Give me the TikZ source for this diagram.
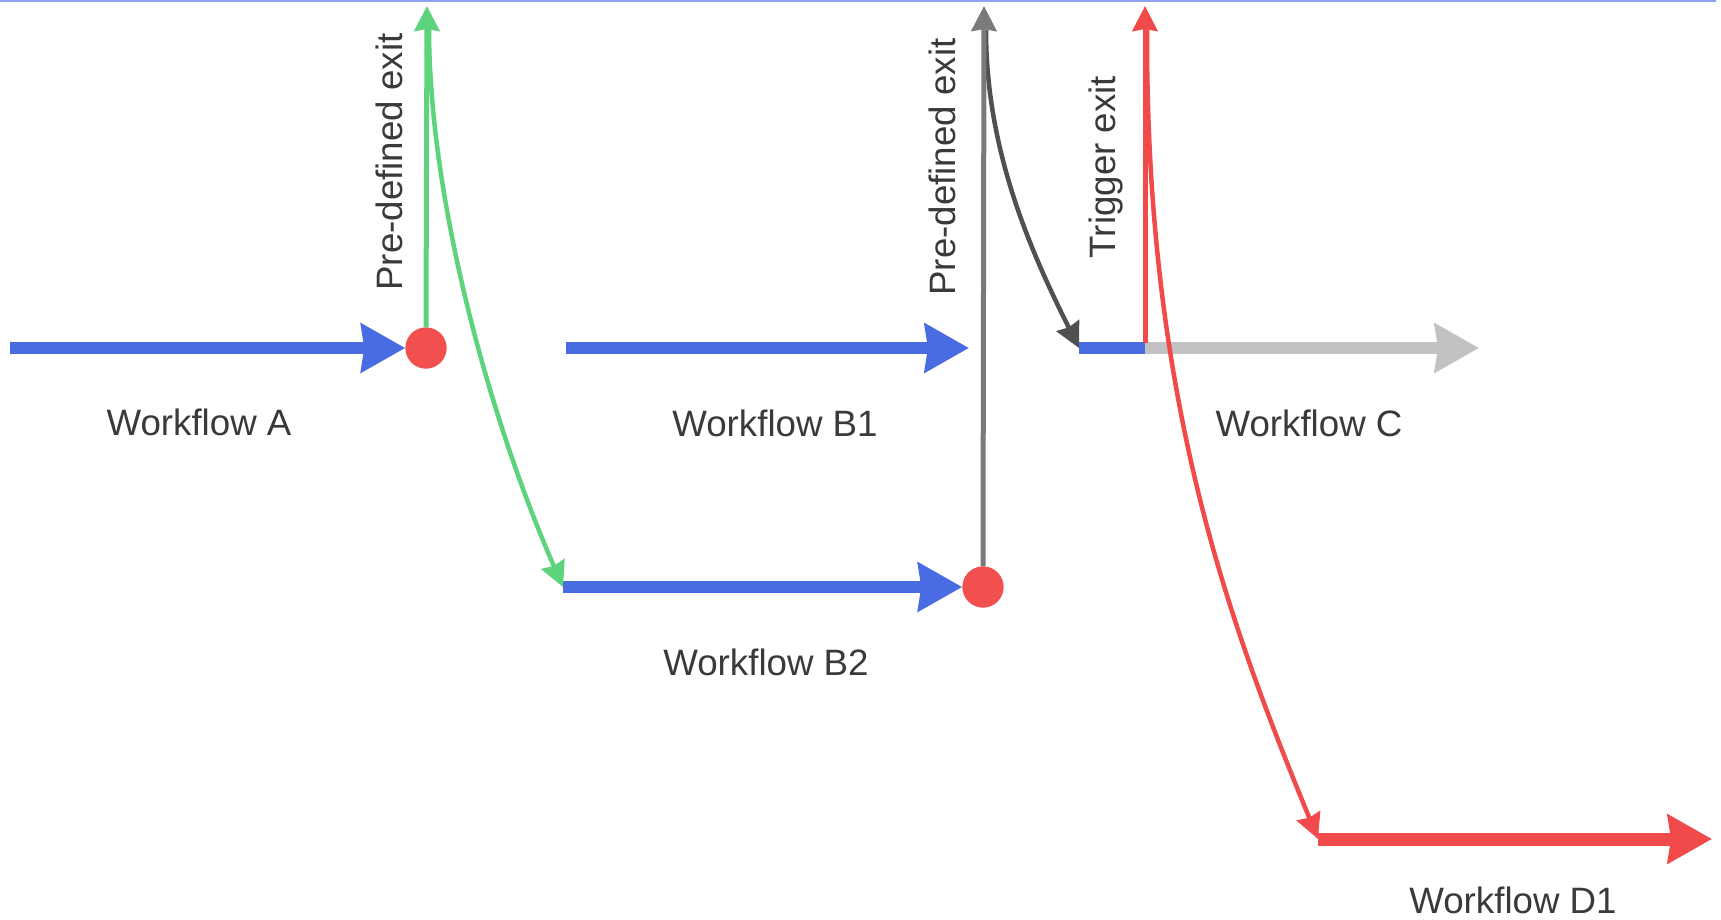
\documentclass[tikz,border=0pt]{standalone}
\usepackage{fontspec}
\setmainfont{Liberation Sans}
\usetikzlibrary{arrows.meta}
\definecolor{flowblue}{HTML}{4A6CE2}
\definecolor{dotred}{HTML}{F25050}
\definecolor{linered}{HTML}{F04A4A}
\definecolor{exitgreen}{HTML}{5DD37C}
\definecolor{exitgray}{HTML}{7A7A7A}
\definecolor{curvegray}{HTML}{505050}
\definecolor{paleflow}{HTML}{C2C2C4}
\definecolor{txt}{HTML}{3A3A3A}
\definecolor{topblue}{HTML}{8CA4F0}
\begin{document}
\begin{tikzpicture}[x=1pt,y=-1pt,
  flow/.style={line width=12pt, -{Stealth[length=44pt,width=48pt,inset=3pt]}},
  exitline/.style={line width=5pt, -{Stealth[length=25pt,width=25pt,inset=2pt]}},
  curvearrow/.style={line width=4.5pt, -{Stealth[length=25pt,width=25pt,inset=2pt]}},
  lbl/.style={text=txt, font=\fontsize{36.7}{44}\selectfont, anchor=base, inner sep=0pt},
  dot/.style={circle, fill=dotred, minimum size=41pt, inner sep=0pt}]
\fill[white] (0,0) rectangle (1721,919);
\useasboundingbox (0,0) rectangle (1721,919);
% top rule
\coordinate (tl) at (0,1);
\coordinate (tr) at (1716,1);
\draw[topblue, line width=1.5pt] (tl) -- (tr);
% dots
\node[dot] (dA) at (426,348) {};
\node[dot] (dB) at (983,587) {};
% coordinates
\coordinate (aS) at (10,348);
\coordinate (gTop) at (427,6);
\coordinate (gc0) at (429,28);
\coordinate (b2S) at (563,587);
\coordinate (b1S) at (566,348);
\coordinate (b1E) at (969,348);
\coordinate (grTop) at (984,6);
\coordinate (dc0) at (986,30);
\coordinate (cS) at (1079,348);
\coordinate (cJ) at (1145,348);
\coordinate (cJt) at (1145,343);
\coordinate (cE) at (1479,348);
\coordinate (rTop) at (1145,6);
\coordinate (rc0) at (1147,30);
\coordinate (dS) at (1318,839);
\coordinate (dE) at (1712,839);
% thick workflow arrows
\draw[flow, flowblue] (aS) -- (dA.west);
\draw[flow, flowblue] (b1S) -- (b1E);
\draw[flow, flowblue] (b2S) -- (dB.west);
\draw[line width=12pt, flowblue] (cS) -- (cJ);
\draw[flow, paleflow] (cJ) -- (cE);
\draw[flow, linered, line width=13pt] (dS) -- (dE);
% curves
\draw[curvearrow, exitgreen] (gc0) .. controls (429,200) and (490,420) .. (b2S);
\draw[curvearrow, curvegray] (dc0) .. controls (986,150) and (1030,250) .. (cS);
\draw[curvearrow, linered] (rc0) .. controls (1146,400) and (1228,620) .. (dS);
% exits
\draw[exitline, exitgreen] (dA.north) -- (gTop);
\draw[exitline, exitgray] (dB.north) -- (grTop);
\draw[exitline, linered] (cJt) -- (rTop);
\node[dot] at (dA) {};
\node[dot] at (dB) {};
% labels
\node[lbl] (lA) at (199,435) {Workflow A};
\node[lbl] (lB1) at (775,436) {Workflow B1};
\node[lbl] (lC) at (1309,436) {Workflow C};
\node[lbl] (lB2) at (766,675) {Workflow B2};
\node[lbl] (lD1) at (1513,913) {Workflow D1};
\node[lbl, rotate=90] (lP1) at (402,162) {Pre-defined exit};
\node[lbl, rotate=90] (lP2) at (955,167) {Pre-defined exit};
\node[lbl, rotate=90] (lT) at (1115,167) {Trigger exit};
\end{tikzpicture}
\end{document}
